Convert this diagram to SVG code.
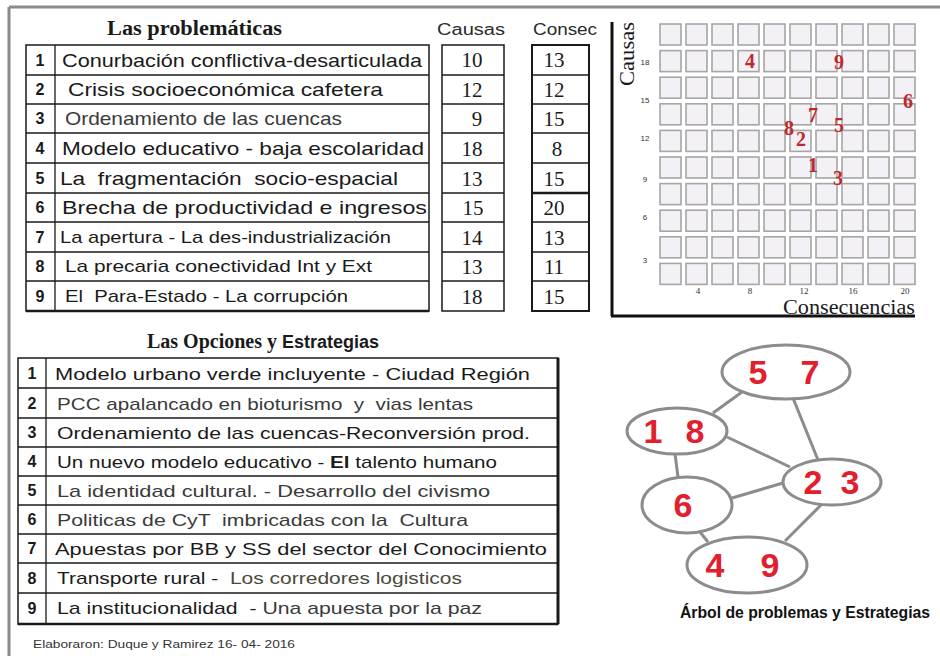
<svg xmlns="http://www.w3.org/2000/svg" width="940" height="656" viewBox="0 0 940 656">
<style>
.frame{stroke:#8a8a8a;stroke-width:3;fill:none}
.tbl{fill:#fff;stroke:#1a1a1a;stroke-width:1.5}
.ln{stroke:#1a1a1a;stroke-width:1.3}
.txt{font-family:"Liberation Sans",Arial,sans-serif;font-size:19px;fill:#1a1a1a;white-space:pre}
.sm{font-size:17px}
.lt{fill:#3a3a3a}
.num{font-family:"Liberation Sans",Arial,sans-serif;font-size:16px;font-weight:bold;fill:#1a1a1a;text-anchor:middle}
.val{font-family:"Liberation Serif","Times New Roman",serif;font-size:21px;fill:#1a1a1a;text-anchor:middle}
.hdr{font-family:"Liberation Serif","Times New Roman",serif;font-weight:bold;font-size:20px;fill:#1a1a1a}
.sansb{font-family:"Liberation Sans",Arial,sans-serif;font-weight:bold;font-size:18px;fill:#1a1a1a}
.colh{font-family:"Liberation Sans",Arial,sans-serif;font-size:16px;fill:#2a2a2a}
.cell{fill:#f3f1f5;stroke:#a6a6a6;stroke-width:1.6}
.ax{font-family:"Liberation Sans",Arial,sans-serif;font-size:8px;fill:#333;text-anchor:middle}
.axx{font-family:"Liberation Serif","Times New Roman",serif;font-size:9px;fill:#333;text-anchor:middle}
.pt{font-family:"Liberation Serif","Times New Roman",serif;font-weight:bold;font-size:20px;fill:#c1272d;text-anchor:middle}
.axis{stroke:#111;stroke-width:3}
.node{fill:#fff;stroke:#8c8c8c;stroke-width:3}
.edge{stroke:#8c8c8c;stroke-width:3;fill:none}
.nl{font-family:"Liberation Sans",Arial,sans-serif;font-weight:bold;font-size:34px;fill:#e2202c;text-anchor:middle}
</style>

<!-- outer frame -->
<line class="frame" x1="9" y1="7" x2="940" y2="7"/>
<line class="frame" x1="9" y1="7" x2="9" y2="656"/>

<!-- Top table -->
<g id="problematicas">
<text class="hdr" x="107" y="35" textLength="175" lengthAdjust="spacingAndGlyphs">Las problemáticas</text>
<rect class="tbl" x="26" y="45" width="403" height="266"/>
<line class="ln" x1="55" y1="45" x2="55" y2="311"/>
<line class="ln" x1="26" y1="75" x2="429" y2="75"/>
<line class="ln" x1="26" y1="104" x2="429" y2="104"/>
<line class="ln" x1="26" y1="133" x2="429" y2="133"/>
<line class="ln" x1="26" y1="163" x2="429" y2="163"/>
<line class="ln" x1="26" y1="193" x2="429" y2="193"/>
<line class="ln" x1="26" y1="222" x2="429" y2="222"/>
<line class="ln" x1="26" y1="252" x2="429" y2="252"/>
<line class="ln" x1="26" y1="281" x2="429" y2="281"/>
<line x1="26" y1="311" x2="429" y2="311" stroke="#1a1a1a" stroke-width="2.5"/>
<text class="num" x="40" y="66">1</text>
<text class="num" x="40" y="95">2</text>
<text class="num" x="40" y="124">3</text>
<text class="num" x="40" y="154">4</text>
<text class="num" x="40" y="184">5</text>
<text class="num" x="40" y="213">6</text>
<text class="num" x="40" y="243">7</text>
<text class="num" x="40" y="272">8</text>
<text class="num" x="40" y="302">9</text>
<text class="txt" x="62" y="67" textLength="360" lengthAdjust="spacingAndGlyphs">Conurbación conflictiva-desarticulada</text>
<text class="txt" x="68" y="96" textLength="315" lengthAdjust="spacingAndGlyphs">Crisis socioeconómica cafetera</text>
<text class="txt lt" x="65" y="125" textLength="277" lengthAdjust="spacingAndGlyphs">Ordenamiento de las cuencas</text>
<text class="txt" x="62" y="155" textLength="362" lengthAdjust="spacingAndGlyphs">Modelo educativo - baja escolaridad</text>
<text class="txt" x="60" y="185" textLength="338" lengthAdjust="spacingAndGlyphs">La  fragmentación  socio-espacial</text>
<text class="txt" x="62" y="214" textLength="365" lengthAdjust="spacingAndGlyphs">Brecha de productividad e ingresos</text>
<text class="txt sm" x="60" y="243" textLength="331" lengthAdjust="spacingAndGlyphs">La apertura - La des-industrialización</text>
<text class="txt sm" x="65" y="272" textLength="307" lengthAdjust="spacingAndGlyphs">La precaria conectividad Int y Ext</text>
<text class="txt sm" x="65" y="302" textLength="283" lengthAdjust="spacingAndGlyphs">El  Para-Estado - La corrupción</text>
</g>

<g id="causas">
<text class="colh" x="437" y="35" textLength="68" lengthAdjust="spacingAndGlyphs">Causas</text>
<rect class="tbl" x="442" y="45" width="62" height="266"/>
<line class="ln" x1="442" y1="75" x2="504" y2="75"/>
<line class="ln" x1="442" y1="104" x2="504" y2="104"/>
<line class="ln" x1="442" y1="133" x2="504" y2="133"/>
<line class="ln" x1="442" y1="163" x2="504" y2="163"/>
<line class="ln" x1="442" y1="193" x2="504" y2="193"/>
<line class="ln" x1="442" y1="222" x2="504" y2="222"/>
<line class="ln" x1="442" y1="252" x2="504" y2="252"/>
<line class="ln" x1="442" y1="281" x2="504" y2="281"/>
<text class="val" x="472" y="67">10</text>
<text class="val" x="472" y="97">12</text>
<text class="val" x="477" y="126">9</text>
<text class="val" x="472" y="156">18</text>
<text class="val" x="472" y="186">13</text>
<text class="val" x="473" y="215">15</text>
<text class="val" x="472" y="245">14</text>
<text class="val" x="472" y="274">13</text>
<text class="val" x="472" y="304">18</text>
</g>

<g id="consecuencias">
<text class="colh" x="533" y="35" textLength="64" lengthAdjust="spacingAndGlyphs">Consec</text>
<rect x="532" y="45" width="57" height="266" fill="#fff" stroke="#1a1a1a" stroke-width="2"/>
<line class="ln" x1="532" y1="75" x2="589" y2="75"/>
<line class="ln" x1="532" y1="104" x2="589" y2="104"/>
<line class="ln" x1="532" y1="133" x2="589" y2="133"/>
<line class="ln" x1="532" y1="163" x2="589" y2="163"/>
<line x1="532" y1="193" x2="589" y2="193" stroke="#1a1a1a" stroke-width="2.5"/>
<line class="ln" x1="532" y1="222" x2="589" y2="222"/>
<line class="ln" x1="532" y1="252" x2="589" y2="252"/>
<line class="ln" x1="532" y1="281" x2="589" y2="281"/>
<text class="val" x="554" y="67">13</text>
<text class="val" x="554" y="97">12</text>
<text class="val" x="554" y="126">15</text>
<text class="val" x="557" y="156">8</text>
<text class="val" x="554" y="186">15</text>
<text class="val" x="554" y="215">20</text>
<text class="val" x="554" y="245">13</text>
<text class="val" x="554" y="274">11</text>
<text class="val" x="554" y="304">15</text>
</g>

<!-- Chart -->
<g id="chart">
<line class="axis" x1="612" y1="22" x2="612" y2="316"/>
<line class="axis" x1="611" y1="316" x2="915" y2="316"/>
<text font-family="'Liberation Serif','Times New Roman',serif" font-size="22" fill="#1a1a1a" text-anchor="middle" transform="translate(634,54) rotate(-90)" textLength="64" lengthAdjust="spacingAndGlyphs">Causas</text>
<g id="grid">
<rect class="cell" x="660" y="24" width="21" height="21"/><rect class="cell" x="686" y="24" width="21" height="21"/><rect class="cell" x="712" y="24" width="21" height="21"/><rect class="cell" x="738" y="24" width="21" height="21"/><rect class="cell" x="764" y="24" width="21" height="21"/><rect class="cell" x="790" y="24" width="21" height="21"/><rect class="cell" x="816" y="24" width="21" height="21"/><rect class="cell" x="842" y="24" width="21" height="21"/><rect class="cell" x="868" y="24" width="21" height="21"/><rect class="cell" x="894" y="24" width="21" height="21"/>
<rect class="cell" x="660" y="50.6" width="21" height="21"/><rect class="cell" x="686" y="50.6" width="21" height="21"/><rect class="cell" x="712" y="50.6" width="21" height="21"/><rect class="cell" x="738" y="50.6" width="21" height="21"/><rect class="cell" x="764" y="50.6" width="21" height="21"/><rect class="cell" x="790" y="50.6" width="21" height="21"/><rect class="cell" x="816" y="50.6" width="21" height="21"/><rect class="cell" x="842" y="50.6" width="21" height="21"/><rect class="cell" x="868" y="50.6" width="21" height="21"/><rect class="cell" x="894" y="50.6" width="21" height="21"/>
<rect class="cell" x="660" y="77.2" width="21" height="21"/><rect class="cell" x="686" y="77.2" width="21" height="21"/><rect class="cell" x="712" y="77.2" width="21" height="21"/><rect class="cell" x="738" y="77.2" width="21" height="21"/><rect class="cell" x="764" y="77.2" width="21" height="21"/><rect class="cell" x="790" y="77.2" width="21" height="21"/><rect class="cell" x="816" y="77.2" width="21" height="21"/><rect class="cell" x="842" y="77.2" width="21" height="21"/><rect class="cell" x="868" y="77.2" width="21" height="21"/><rect class="cell" x="894" y="77.2" width="21" height="21"/>
<rect class="cell" x="660" y="103.8" width="21" height="21"/><rect class="cell" x="686" y="103.8" width="21" height="21"/><rect class="cell" x="712" y="103.8" width="21" height="21"/><rect class="cell" x="738" y="103.8" width="21" height="21"/><rect class="cell" x="764" y="103.8" width="21" height="21"/><rect class="cell" x="790" y="103.8" width="21" height="21"/><rect class="cell" x="816" y="103.8" width="21" height="21"/><rect class="cell" x="842" y="103.8" width="21" height="21"/><rect class="cell" x="868" y="103.8" width="21" height="21"/><rect class="cell" x="894" y="103.8" width="21" height="21"/>
<rect class="cell" x="660" y="130.4" width="21" height="21"/><rect class="cell" x="686" y="130.4" width="21" height="21"/><rect class="cell" x="712" y="130.4" width="21" height="21"/><rect class="cell" x="738" y="130.4" width="21" height="21"/><rect class="cell" x="764" y="130.4" width="21" height="21"/><rect class="cell" x="790" y="130.4" width="21" height="21"/><rect class="cell" x="816" y="130.4" width="21" height="21"/><rect class="cell" x="842" y="130.4" width="21" height="21"/><rect class="cell" x="868" y="130.4" width="21" height="21"/><rect class="cell" x="894" y="130.4" width="21" height="21"/>
<rect class="cell" x="660" y="157" width="21" height="21"/><rect class="cell" x="686" y="157" width="21" height="21"/><rect class="cell" x="712" y="157" width="21" height="21"/><rect class="cell" x="738" y="157" width="21" height="21"/><rect class="cell" x="764" y="157" width="21" height="21"/><rect class="cell" x="790" y="157" width="21" height="21"/><rect class="cell" x="816" y="157" width="21" height="21"/><rect class="cell" x="842" y="157" width="21" height="21"/><rect class="cell" x="868" y="157" width="21" height="21"/><rect class="cell" x="894" y="157" width="21" height="21"/>
<rect class="cell" x="660" y="183.6" width="21" height="21"/><rect class="cell" x="686" y="183.6" width="21" height="21"/><rect class="cell" x="712" y="183.6" width="21" height="21"/><rect class="cell" x="738" y="183.6" width="21" height="21"/><rect class="cell" x="764" y="183.6" width="21" height="21"/><rect class="cell" x="790" y="183.6" width="21" height="21"/><rect class="cell" x="816" y="183.6" width="21" height="21"/><rect class="cell" x="842" y="183.6" width="21" height="21"/><rect class="cell" x="868" y="183.6" width="21" height="21"/><rect class="cell" x="894" y="183.6" width="21" height="21"/>
<rect class="cell" x="660" y="210.2" width="21" height="21"/><rect class="cell" x="686" y="210.2" width="21" height="21"/><rect class="cell" x="712" y="210.2" width="21" height="21"/><rect class="cell" x="738" y="210.2" width="21" height="21"/><rect class="cell" x="764" y="210.2" width="21" height="21"/><rect class="cell" x="790" y="210.2" width="21" height="21"/><rect class="cell" x="816" y="210.2" width="21" height="21"/><rect class="cell" x="842" y="210.2" width="21" height="21"/><rect class="cell" x="868" y="210.2" width="21" height="21"/><rect class="cell" x="894" y="210.2" width="21" height="21"/>
<rect class="cell" x="660" y="236.8" width="21" height="21"/><rect class="cell" x="686" y="236.8" width="21" height="21"/><rect class="cell" x="712" y="236.8" width="21" height="21"/><rect class="cell" x="738" y="236.8" width="21" height="21"/><rect class="cell" x="764" y="236.8" width="21" height="21"/><rect class="cell" x="790" y="236.8" width="21" height="21"/><rect class="cell" x="816" y="236.8" width="21" height="21"/><rect class="cell" x="842" y="236.8" width="21" height="21"/><rect class="cell" x="868" y="236.8" width="21" height="21"/><rect class="cell" x="894" y="236.8" width="21" height="21"/>
<rect class="cell" x="660" y="263.4" width="21" height="21"/><rect class="cell" x="686" y="263.4" width="21" height="21"/><rect class="cell" x="712" y="263.4" width="21" height="21"/><rect class="cell" x="738" y="263.4" width="21" height="21"/><rect class="cell" x="764" y="263.4" width="21" height="21"/><rect class="cell" x="790" y="263.4" width="21" height="21"/><rect class="cell" x="816" y="263.4" width="21" height="21"/><rect class="cell" x="842" y="263.4" width="21" height="21"/><rect class="cell" x="868" y="263.4" width="21" height="21"/><rect class="cell" x="894" y="263.4" width="21" height="21"/>
</g>
<text class="ax" x="645" y="65">18</text>
<text class="ax" x="645" y="103">15</text>
<text class="ax" x="645" y="141">12</text>
<text class="ax" x="645" y="182">9</text>
<text class="ax" x="645" y="220">6</text>
<text class="ax" x="645" y="263">3</text>
<text class="axx" x="698" y="294">4</text>
<text class="axx" x="750" y="294">8</text>
<text class="axx" x="804" y="294">12</text>
<text class="axx" x="853" y="294">16</text>
<text class="axx" x="905" y="294">20</text>
<text font-family="'Liberation Serif','Times New Roman',serif" font-size="20" fill="#1a1a1a" text-anchor="end" x="915" y="314" textLength="132" lengthAdjust="spacingAndGlyphs">Consecuencias</text>
<text class="pt" x="750" y="68">4</text>
<text class="pt" x="839" y="69">9</text>
<text class="pt" x="908" y="108">6</text>
<text class="pt" x="813" y="122">7</text>
<text class="pt" x="839" y="132">5</text>
<text class="pt" x="789" y="135">8</text>
<text class="pt" x="801" y="146">2</text>
<text class="pt" x="813" y="172">1</text>
<text class="pt" x="838" y="185">3</text>
</g>

<!-- Bottom table -->
<g id="opciones">
<text class="hdr" x="147" y="348" font-size="19">Las Opciones y <tspan class="sansb">Estrategias</tspan></text>
<rect class="tbl" x="18" y="358" width="540" height="266"/>
<line class="ln" x1="46" y1="358" x2="46" y2="624"/>
<line x1="558" y1="358" x2="558" y2="624" stroke="#1a1a1a" stroke-width="3"/>
<line x1="18" y1="624" x2="558" y2="624" stroke="#1a1a1a" stroke-width="2.5"/>
<line class="ln" x1="18" y1="388" x2="558" y2="388"/>
<line class="ln" x1="18" y1="418" x2="558" y2="418"/>
<line class="ln" x1="18" y1="447" x2="558" y2="447"/>
<line class="ln" x1="18" y1="476" x2="558" y2="476"/>
<line class="ln" x1="18" y1="505" x2="558" y2="505"/>
<line class="ln" x1="18" y1="534" x2="558" y2="534"/>
<line class="ln" x1="18" y1="563" x2="558" y2="563"/>
<line class="ln" x1="18" y1="593" x2="558" y2="593"/>
<text class="num" x="32" y="379">1</text>
<text class="num" x="32" y="409">2</text>
<text class="num" x="32" y="438">3</text>
<text class="num" x="32" y="467">4</text>
<text class="num" x="32" y="496">5</text>
<text class="num" x="32" y="525">6</text>
<text class="num" x="32" y="554">7</text>
<text class="num" x="32" y="584">8</text>
<text class="num" x="32" y="614">9</text>
<text class="txt sm" x="55" y="380" font-size="18" textLength="475" lengthAdjust="spacingAndGlyphs">Modelo urbano verde incluyente - Ciudad Región</text>
<text class="txt sm lt" x="57" y="410" textLength="416" lengthAdjust="spacingAndGlyphs">PCC apalancado en bioturismo  y  vias lentas</text>
<text class="txt sm" x="57" y="439" textLength="473" lengthAdjust="spacingAndGlyphs">Ordenamiento de las cuencas-Reconversión prod.</text>
<text class="txt sm" x="57" y="468" textLength="440" lengthAdjust="spacingAndGlyphs">Un nuevo modelo educativo - <tspan font-weight="bold">El</tspan> talento humano</text>
<text class="txt sm lt" x="57" y="497" textLength="433" lengthAdjust="spacingAndGlyphs">La identidad cultural. - Desarrollo del civismo</text>
<text class="txt sm lt" x="57" y="526" textLength="411" lengthAdjust="spacingAndGlyphs">Politicas de CyT  imbricadas con la  Cultura</text>
<text class="txt sm" x="55" y="555" textLength="492" lengthAdjust="spacingAndGlyphs">Apuestas por BB y SS del sector del Conocimiento</text>
<text class="txt sm" x="57" y="584" textLength="405" lengthAdjust="spacingAndGlyphs">Transporte rural -  <tspan fill="#4a4a3a">Los corredores logisticos</tspan></text>
<text class="txt sm" x="57" y="614" textLength="425" lengthAdjust="spacingAndGlyphs">La institucionalidad  - <tspan fill="#3a3a3a">Una apuesta por la paz</tspan></text>
</g>

<text font-family="'Liberation Sans',Arial,sans-serif" font-size="11" fill="#333" x="33" y="648" textLength="262" lengthAdjust="spacingAndGlyphs">Elaboraron: Duque y Ramirez 16- 04- 2016</text>

<!-- Graph -->
<g id="connectors">
<line class="edge" x1="742" y1="392" x2="713" y2="413"/>
<line class="edge" x1="793" y1="398" x2="818" y2="460"/>
<line class="edge" x1="727" y1="437" x2="790" y2="467"/>
<line class="edge" x1="675" y1="454" x2="678" y2="477"/>
<line class="edge" x1="732" y1="498" x2="783" y2="483"/>
<line class="edge" x1="700" y1="532" x2="708" y2="542"/>
<line class="edge" x1="822" y1="504" x2="785" y2="541"/>
</g>
<g id="n57"><ellipse class="node" cx="786" cy="372" rx="64" ry="27"/><text class="nl" x="758" y="384">5</text><text class="nl" x="810" y="384">7</text></g>
<g id="n18"><ellipse class="node" cx="677" cy="431" rx="50" ry="23"/><text class="nl" x="653" y="443">1</text><text class="nl" x="695" y="443">8</text></g>
<g id="n23"><ellipse class="node" cx="832" cy="482" rx="49" ry="23"/><text class="nl" x="813" y="494">2</text><text class="nl" x="850" y="494">3</text></g>
<g id="n6"><ellipse class="node" cx="687" cy="505" rx="45" ry="28"/><text class="nl" x="683" y="517">6</text></g>
<g id="n49"><ellipse class="node" cx="747" cy="565" rx="60" ry="28"/><text class="nl" x="715" y="577">4</text><text class="nl" x="770" y="577">9</text></g>
<text font-family="'Liberation Sans',Arial,sans-serif" font-weight="bold" font-size="16" fill="#111" x="680" y="618" textLength="250" lengthAdjust="spacingAndGlyphs">Árbol de problemas y Estrategias</text>
</svg>
